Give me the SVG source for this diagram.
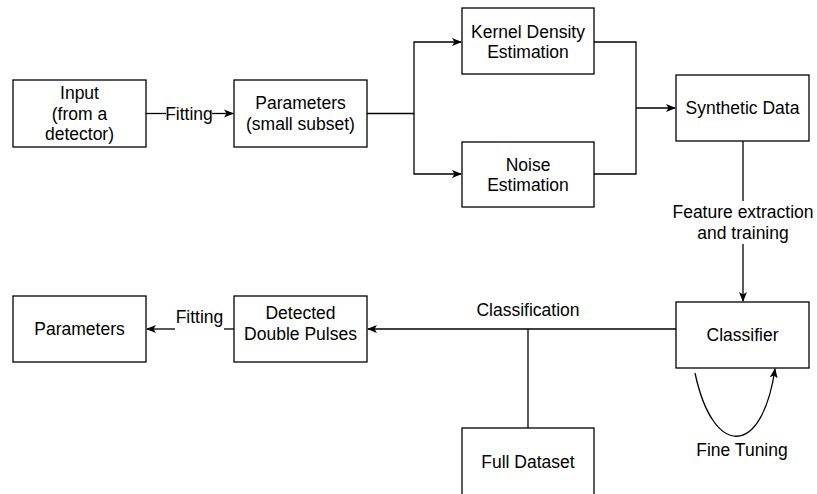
<svg xmlns="http://www.w3.org/2000/svg" width="817" height="494" viewBox="0 0 817 494">
  <defs>
    <style>
      .box { fill: #ffffff; stroke: #000000; stroke-width: 1.3; }
      .edge { fill: none; stroke: #000000; stroke-width: 1.3; }
      text { font-family: "Liberation Sans", Arial, sans-serif; font-size: 17.5px; fill: #000000; text-anchor: middle; }
    </style>
    <marker id="arrow" viewBox="0 0 10 10" refX="9" refY="5" markerWidth="10" markerHeight="10" markerUnits="userSpaceOnUse" orient="auto">
      <path d="M0,1 L10,5 L0,9 L2.5,5 Z" fill="#000000"/>
    </marker>
  </defs>

  <rect width="817" height="494" fill="#ffffff"/>

  <!-- connectors -->
  <g id="connectors">
    <!-- Input -> Parameters (small subset) -->
    <path class="edge" d="M146,113.5 H166"/>
    <path class="edge" d="M212,113.5 H233" marker-end="url(#arrow)"/>
    <text x="189" y="119.5">Fitting</text>

    <!-- split to KDE and noise estimation -->
    <path class="edge" d="M367,113.5 H414 V42 H461" marker-end="url(#arrow)"/>
    <path class="edge" d="M414,113.5 V174 H461" marker-end="url(#arrow)"/>

    <!-- merge into synthetic data -->
    <path class="edge" d="M594,42 H636 V174 H594"/>
    <path class="edge" d="M636,108 H675" marker-end="url(#arrow)"/>

    <!-- synthetic data -> classifier -->
    <path class="edge" d="M743,141 V201"/>
    <path class="edge" d="M743,244 V301" marker-end="url(#arrow)"/>
    <text x="743" y="218">Feature extraction</text>
    <text x="743" y="239">and training</text>

    <!-- classifier -> detected double pulses -->
    <path class="edge" d="M676,329 H368" marker-end="url(#arrow)"/>
    <text x="528" y="316">Classification</text>
    <!-- full dataset joins the classification line -->
    <path class="edge" d="M528,428 V329"/>

    <!-- detected double pulses -> parameters -->
    <path class="edge" d="M234,329 H224"/>
    <path class="edge" d="M175,329 H147" marker-end="url(#arrow)"/>
    <text x="199.5" y="323">Fitting</text>

    <!-- fine tuning loop -->
    <path class="edge" d="M695,373 C713,458 762,458 775,369" marker-end="url(#arrow)"/>
    <text x="742" y="456">Fine Tuning</text>
  </g>

  <g id="node-input">
    <rect class="box" x="13" y="80" width="133" height="67"/>
    <text x="79.5" y="99">Input</text>
    <text x="79.5" y="119.5">(from a</text>
    <text x="79.5" y="140">detector)</text>
  </g>

  <g id="node-params-subset">
    <rect class="box" x="234" y="80" width="133" height="67"/>
    <text x="300.5" y="109">Parameters</text>
    <text x="300.5" y="129.5">(small subset)</text>
  </g>

  <g id="node-kde">
    <rect class="box" x="462" y="8" width="132" height="66"/>
    <text x="528" y="37.5">Kernel Density</text>
    <text x="528" y="58">Estimation</text>
  </g>

  <g id="node-noise">
    <rect class="box" x="462" y="142" width="132" height="65"/>
    <text x="528" y="170.5">Noise</text>
    <text x="528" y="191">Estimation</text>
  </g>

  <g id="node-synthetic">
    <rect class="box" x="676" y="75" width="133" height="66"/>
    <text x="742.5" y="114">Synthetic Data</text>
  </g>

  <g id="node-classifier">
    <rect class="box" x="676" y="302" width="133" height="66"/>
    <text x="742.5" y="341">Classifier</text>
  </g>

  <g id="node-detected">
    <rect class="box" x="234" y="296" width="133" height="66"/>
    <text x="300.5" y="319">Detected</text>
    <text x="300.5" y="339.5">Double Pulses</text>
  </g>

  <g id="node-parameters">
    <rect class="box" x="13" y="296" width="133" height="66"/>
    <text x="79.5" y="335">Parameters</text>
  </g>

  <g id="node-full-dataset">
    <rect class="box" x="462" y="428" width="132" height="70"/>
    <text x="528" y="468">Full Dataset</text>
  </g>
</svg>
